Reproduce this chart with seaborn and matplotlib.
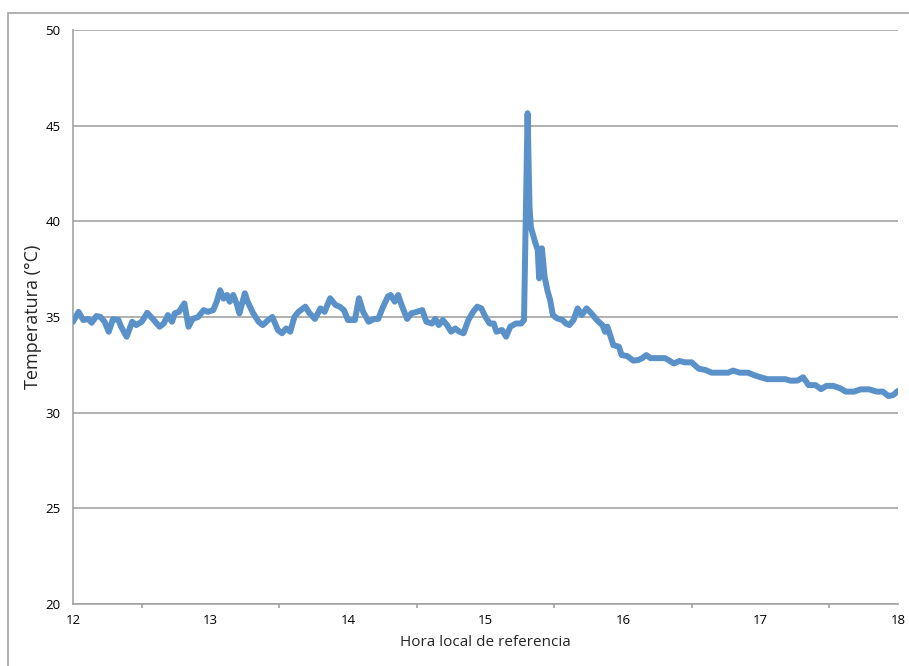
import seaborn as sns
import matplotlib.pyplot as plt
from matplotlib.patches import Rectangle
from matplotlib.ticker import MultipleLocator

# hora local (decimal) y temperatura
hora = [12.00, 12.04, 12.075, 12.11, 12.136, 12.17, 12.20, 12.23, 12.26, 12.29,
        12.33, 12.35, 12.39, 12.43, 12.46, 12.50, 12.54, 12.58, 12.63, 12.66,
        12.69, 12.72, 12.74, 12.77, 12.81, 12.84, 12.87, 12.91, 12.95, 12.98,
        13.02, 13.045, 13.07, 13.095, 13.12, 13.14, 13.165, 13.19, 13.21, 13.25,
        13.27, 13.31, 13.35, 13.38, 13.42, 13.45, 13.49, 13.52, 13.55, 13.58,
        13.61, 13.64, 13.69, 13.72, 13.76, 13.80, 13.83, 13.87, 13.91, 13.94,
        13.97, 14.00, 14.05, 14.08, 14.11, 14.15, 14.19, 14.22, 14.25, 14.29,
        14.31, 14.34, 14.365, 14.39, 14.43, 14.46, 14.50, 14.54, 14.57, 14.61,
        14.635, 14.66, 14.69, 14.72, 14.75, 14.78, 14.81, 14.84, 14.875, 14.91,
        14.94, 14.97, 15.00, 15.03, 15.06, 15.08, 15.12, 15.15, 15.18, 15.22,
        15.26, 15.28, 15.306, 15.32, 15.33, 15.36, 15.38, 15.39, 15.41, 15.43,
        15.45, 15.47, 15.49, 15.52, 15.56, 15.585, 15.61, 15.64, 15.67, 15.70,
        15.735, 15.77, 15.81, 15.85, 15.87, 15.886, 15.93, 15.97, 15.99, 16.03,
        16.075, 16.11, 16.14, 16.17, 16.20, 16.24, 16.305, 16.33, 16.37, 16.41,
        16.45, 16.50, 16.55, 16.60, 16.645, 16.70, 16.765, 16.80, 16.85, 16.91,
        16.95, 17.00, 17.05, 17.10, 17.18, 17.22, 17.27, 17.31, 17.35, 17.40,
        17.44, 17.48, 17.53, 17.58, 17.62, 17.68, 17.73, 17.79, 17.845, 17.89,
        17.93, 17.965, 18.00]
temperatura = [34.75, 35.27, 34.84, 34.9, 34.7, 35.05, 35.0, 34.75, 34.23, 34.88,
               34.85, 34.49, 33.97, 34.75, 34.58, 34.75, 35.22, 34.9, 34.49, 34.66,
               35.1, 34.75, 35.19, 35.27, 35.71, 34.49, 34.9, 35.0, 35.36, 35.27,
               35.36, 35.8, 36.4, 35.96, 36.15, 35.8, 36.15, 35.7, 35.19, 36.24,
               35.8, 35.2, 34.75, 34.58, 34.84, 35.0, 34.32, 34.15, 34.4, 34.23,
               35.0, 35.27, 35.54, 35.2, 34.9, 35.45, 35.27, 35.98, 35.62, 35.54,
               35.36, 34.84, 34.84, 35.98, 35.27, 34.75, 34.9, 34.9, 35.45, 36.07,
               36.15, 35.8, 36.15, 35.62, 34.9, 35.19, 35.27, 35.36, 34.75, 34.66,
               34.9, 34.58, 34.84, 34.58, 34.23, 34.4, 34.23, 34.15, 34.84, 35.27,
               35.54, 35.45, 35.0, 34.66, 34.66, 34.23, 34.32, 33.97, 34.49, 34.66,
               34.66, 34.84, 45.65, 40.77, 39.7, 38.93, 38.5, 37.02, 38.59, 37.1,
               36.4, 35.89, 35.1, 34.93, 34.84, 34.66, 34.58, 34.84, 35.45, 35.1,
               35.45, 35.19, 34.84, 34.58, 34.23, 34.5, 33.53, 33.45, 33.01, 32.96,
               32.72, 32.75, 32.85, 33.01, 32.85, 32.85, 32.85, 32.75, 32.57, 32.7,
               32.63, 32.63, 32.3, 32.23, 32.09, 32.09, 32.09, 32.2, 32.09, 32.09,
               31.97, 31.85, 31.75, 31.75, 31.75, 31.67, 31.68, 31.85, 31.44, 31.44,
               31.23, 31.4, 31.4, 31.27, 31.1, 31.1, 31.22, 31.22, 31.1, 31.1,
               30.87, 30.92, 31.14]

x_ticks = [12, 13, 14, 15, 16, 17, 18]
y_ticks = [20, 25, 30, 35, 40, 45, 50]

sns.set_style('white')
plt.rcParams['font.family'] = ['Open Sans', 'DejaVu Sans']

gris = '#A3A3A3'
fig = plt.figure(figsize=(9.09, 6.66), dpi=100)
ax = fig.add_axes([73 / 909, 1 - 604 / 666, (898 - 73) / 909, (604 - 30) / 666])

# marco exterior del grafico
fig.patches.append(Rectangle((8 / 909, -0.2), 1.2, 1.2 - 13 / 666, transform=fig.transFigure,
                             fill=False, edgecolor=gris, linewidth=1.2))

sns.lineplot(x=hora, y=temperatura, estimator=None, color='#5A91C9', linewidth=4.3,
             solid_joinstyle='round', solid_capstyle='round', ax=ax, zorder=3)

ax.set_xlim(12, 18)
ax.set_ylim(20, 50)
ax.set_xticks(x_ticks, [str(t) for t in x_ticks])
ax.set_yticks(y_ticks, [str(t) for t in y_ticks])
ax.xaxis.set_minor_locator(MultipleLocator(0.5))
ax.grid(axis='y', color=gris, linewidth=1.2)
ax.grid(axis='x', visible=False)
ax.set_axisbelow(True)

for s in ['top', 'right']:
    ax.spines[s].set_visible(False)
for s in ['left', 'bottom']:
    ax.spines[s].set_color(gris)
    ax.spines[s].set_linewidth(1.2)

ax.tick_params(axis='both', which='both', direction='out', color=gris, width=1.2,
               labelsize=9.5, labelcolor='black')
ax.tick_params(axis='both', which='major', length=4)
ax.tick_params(axis='x', which='minor', length=3, bottom=True)
ax.tick_params(axis='y', pad=5)
ax.tick_params(axis='x', pad=3)

ax.set_xlabel('Hora local de referencia', fontsize=11, labelpad=6)
ax.set_ylabel('Temperatura (°C)', fontsize=13, labelpad=2)

fig.savefig('out.png', dpi=100)
